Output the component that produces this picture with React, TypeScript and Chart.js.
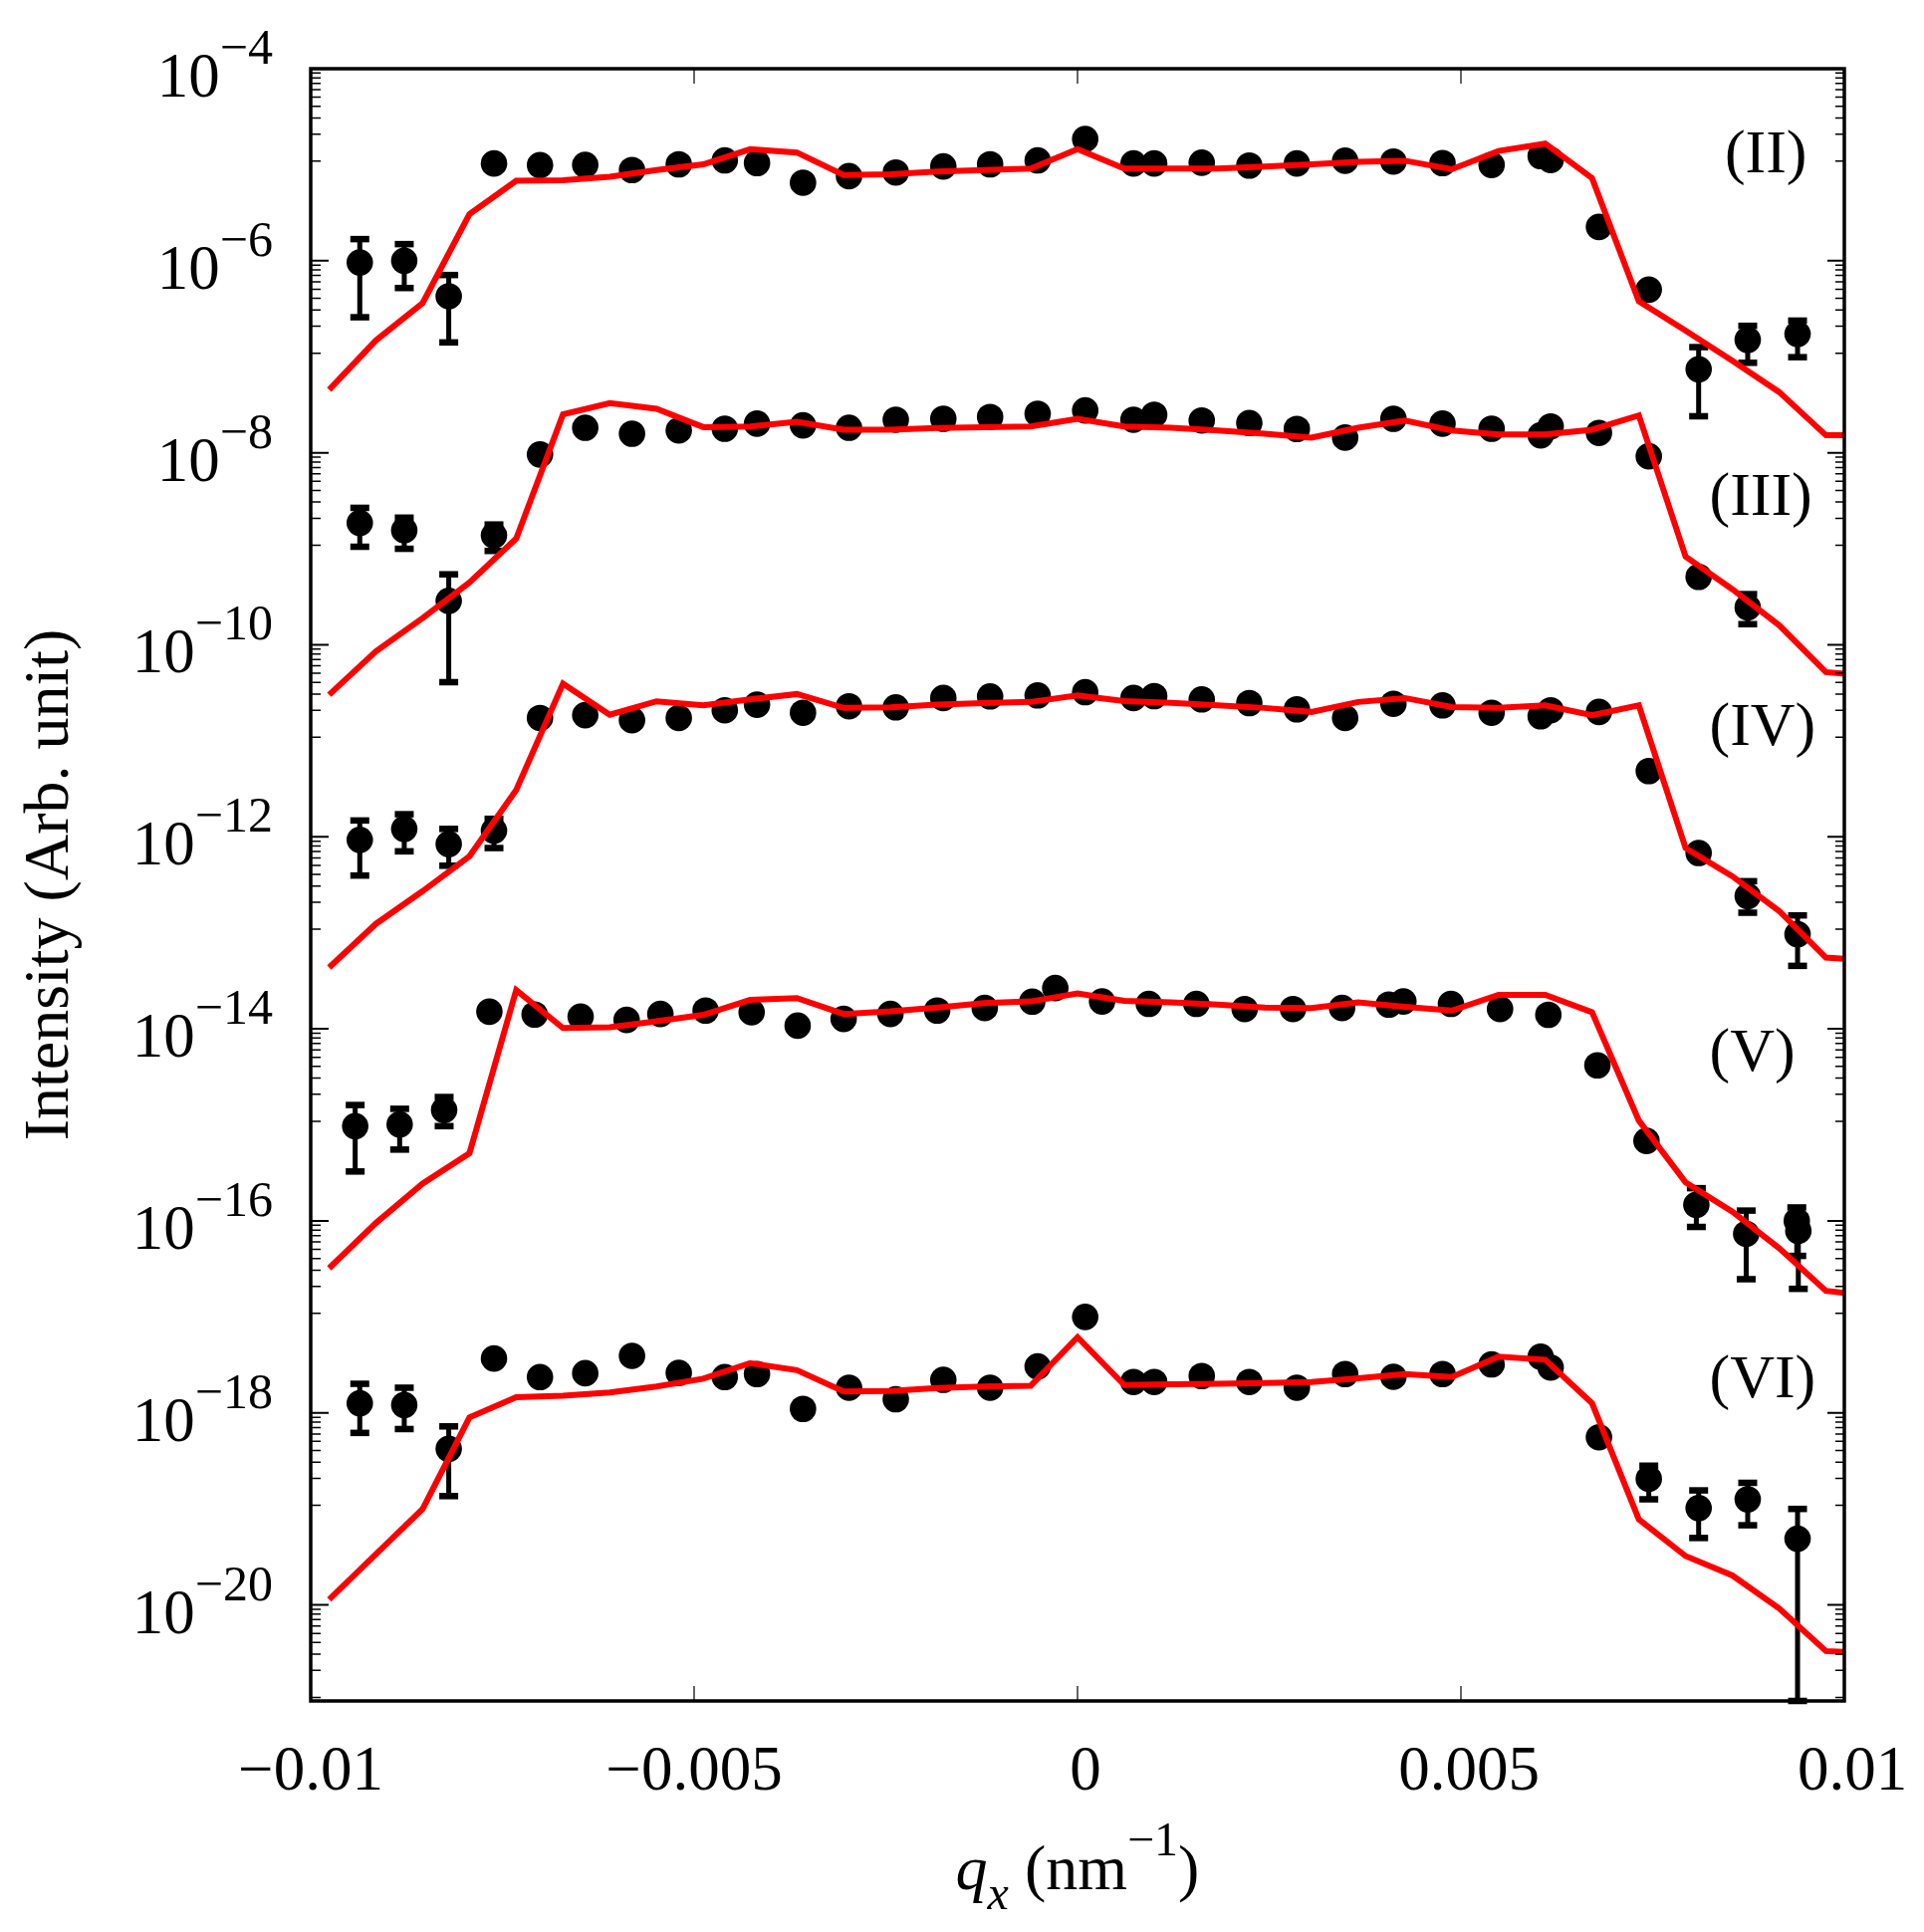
import { useEffect, useRef } from 'react'
import { Chart, registerables } from 'chart.js'

Chart.register(...registerables)

// measured q_x positions of the data points (shared by II, III, IV, VI)
const qxData = [
  -0.00936, -0.00878, -0.0082, -0.00761, -0.00701, -0.00642, -0.00581, -0.0052, -0.0046, -0.00418, -0.00358,
  -0.00298, -0.00237, -0.00175, -0.00114, -0.00052, 0.0001, 0.00073, 0.001, 0.00162, 0.00224, 0.00286,
  0.00349, 0.00412, 0.00476, 0.0054, 0.00604, 0.00617, 0.0068, 0.00745, 0.0081, 0.00874, 0.00939,
]
// curve V was measured on a slightly different grid
const qxDataV = [
  -0.00942, -0.00884, -0.00826, -0.00767, -0.00708, -0.00648, -0.00588, -0.00544, -0.00485, -0.00425, -0.00365,
  -0.00305, -0.00244, -0.00183, -0.00121, -0.00059, -0.00029, 0.00032, 0.00093, 0.00155, 0.00218, 0.00281,
  0.00345, 0.00406, 0.00425, 0.00487, 0.00551, 0.00614, 0.00678, 0.00742, 0.00807, 0.00872, 0.00938, 0.0094,
]
// q_x grid of the model curves
const qxModel = [
  -0.00976, -0.00915, -0.00854, -0.00793, -0.00732, -0.00671, -0.0061, -0.00549, -0.00488, -0.00427, -0.00366,
  -0.00305, -0.00244, -0.00183, -0.00122, -0.00061, 0, 0.00061, 0.00122, 0.00183, 0.00244, 0.00305, 0.00366,
  0.00427, 0.00488, 0.00549, 0.0061, 0.00671, 0.00732, 0.00793, 0.00854, 0.00915, 0.00976, 0.01,
]

const dataII = [
  9.6e-7, 1.0e-6, 4.27e-7, 1.03e-5, 9.9e-6, 9.95e-6, 8.8e-6, 1.01e-5, 1.11e-5, 1.04e-5, 6.5e-6, 7.6e-6, 8.3e-6,
  9.6e-6, 1.01e-5, 1.11e-5, 1.85e-5, 1.03e-5, 1.03e-5, 1.05e-5, 9.8e-6, 1.03e-5, 1.1e-5, 1.08e-5, 1.04e-5,
  9.95e-6, 1.23e-5, 1.12e-5, 2.25e-6, 5.0e-7, 7.4e-8, 1.5e-7, 1.73e-7,
]
const dataIII = [
  1.86e-9, 1.56e-9, 2.87e-10, 1.38e-9, 9.6e-9, 1.82e-8, 1.58e-8, 1.71e-8, 1.78e-8, 2.01e-8, 1.93e-8, 1.82e-8,
  2.21e-8, 2.26e-8, 2.36e-8, 2.55e-8, 2.76e-8, 2.21e-8, 2.49e-8, 2.17e-8, 2.04e-8, 1.77e-8, 1.44e-8, 2.26e-8,
  2.01e-8, 1.78e-8, 1.52e-8, 1.88e-8, 1.61e-8, 9.2e-9, 5.1e-10, 2.45e-10,
]
const dataIV = [
  9.3e-13, 1.21e-12, 8.4e-13, 1.16e-12, 1.73e-11, 1.85e-11, 1.64e-11, 1.73e-11, 2.08e-11, 2.38e-11, 1.96e-11,
  2.29e-11, 2.23e-11, 2.79e-11, 2.9e-11, 2.97e-11, 3.21e-11, 2.79e-11, 2.92e-11, 2.7e-11, 2.47e-11, 2.13e-11,
  1.73e-11, 2.43e-11, 2.34e-11, 1.96e-11, 1.8e-11, 2.08e-11, 2.0e-11, 4.84e-12, 6.78e-13, 2.41e-13, 9.66e-14,
]
const dataV = [
  9.7e-16, 1.01e-15, 1.43e-15, 1.51e-14, 1.41e-14, 1.34e-14, 1.24e-14, 1.43e-14, 1.55e-14, 1.49e-14, 1.08e-14,
  1.27e-14, 1.43e-14, 1.55e-14, 1.65e-14, 1.92e-14, 2.66e-14, 1.93e-14, 1.82e-14, 1.82e-14, 1.61e-14, 1.61e-14,
  1.65e-14, 1.79e-14, 1.93e-14, 1.82e-14, 1.61e-14, 1.4e-14, 4.17e-15, 6.81e-16, 1.47e-16, 7.33e-17, 1.0e-16,
  7.87e-17,
]
const dataVI = [
  1.26e-18, 1.21e-18, 4.23e-19, 3.69e-18, 2.36e-18, 2.59e-18, 3.93e-18, 2.61e-18, 2.36e-18, 2.54e-18, 1.1e-18,
  1.83e-18, 1.39e-18, 2.21e-18, 1.83e-18, 3.05e-18, 1.0e-17, 2.1e-18, 2.1e-18, 2.42e-18, 2.1e-18, 1.83e-18,
  2.54e-18, 2.38e-18, 2.54e-18, 3.2e-18, 3.85e-18, 2.97e-18, 5.58e-19, 2.06e-19, 1.02e-19, 1.26e-19, 4.9e-20,
]

// [point index, lower end, upper end]
const errII: [number, number, number][] = [
  [0, 2.58e-7, 1.68e-6], [1, 5.2e-7, 1.49e-6], [2, 1.41e-7, 7.1e-7],
  [30, 2.4e-8, 1.26e-7], [31, 8.65e-8, 2.1e-7], [32, 9.9e-8, 2.38e-7],
]
const errIII: [number, number, number][] = [
  [0, 1.05e-9, 2.67e-9], [1, 1.0e-9, 2.11e-9], [2, 4.08e-11, 5.42e-10], [3, 9.5e-10, 1.79e-9],
  [31, 1.64e-10, 3.37e-10],
]
const errIV: [number, number, number][] = [
  [0, 3.95e-13, 1.48e-12], [1, 7.06e-13, 1.72e-12], [2, 5.0e-13, 1.21e-12], [3, 7.64e-13, 1.54e-12],
  [31, 1.62e-13, 3.45e-13], [32, 4.53e-14, 1.52e-13],
]
const errV: [number, number, number][] = [
  [0, 3.27e-16, 1.61e-15], [1, 5.53e-16, 1.47e-15], [2, 9.7e-16, 1.95e-15],
  [30, 8.65e-17, 2.19e-16], [31, 2.47e-17, 1.28e-16], [32, 4.32e-17, 1.38e-16], [33, 1.96e-17, 1.12e-16],
]
const errVI: [number, number, number][] = [
  [0, 6.19e-19, 2.01e-18], [1, 6.79e-19, 1.83e-18], [2, 1.36e-19, 7.24e-19],
  [29, 1.26e-19, 2.82e-19], [30, 4.98e-20, 1.56e-19], [31, 6.76e-20, 1.87e-19], [32, 1e-21, 1.0e-19],
]

const modelII = [
  4.53e-8, 1.48e-7, 3.63e-7, 3.05e-6, 6.8e-6, 6.9e-6, 7.5e-6, 8.8e-6, 1.01e-5, 1.45e-5, 1.34e-5, 7.8e-6, 7.96e-6,
  8.5e-6, 8.8e-6, 9.1e-6, 1.45e-5, 9.1e-6, 9.1e-6, 9.1e-6, 9.55e-6, 1.01e-5, 1.07e-5, 1.1e-5, 8.97e-6, 1.39e-5,
  1.66e-5, 7.24e-6, 3.78e-7, 1.87e-7, 9.1e-8, 4.29e-8, 1.52e-8, 1.52e-8,
]
const modelIII = [
  3.02e-11, 8.55e-11, 1.9e-10, 4.45e-10, 1.28e-9, 2.51e-8, 3.29e-8, 2.87e-8, 1.85e-8, 1.88e-8, 2.1e-8, 1.74e-8,
  1.74e-8, 1.81e-8, 1.85e-8, 1.88e-8, 2.26e-8, 1.88e-8, 1.82e-8, 1.71e-8, 1.58e-8, 1.44e-8, 1.82e-8, 2.17e-8,
  1.71e-8, 1.55e-8, 1.55e-8, 1.74e-8, 2.45e-8, 8.3e-10, 3.79e-10, 1.6e-10, 5.19e-11, 5.0e-11,
]
const modelIV = [
  4.36e-14, 1.24e-13, 2.72e-13, 6.27e-13, 3.08e-12, 3.93e-11, 1.87e-11, 2.58e-11, 2.34e-11, 2.7e-11, 3.07e-11,
  2.2e-11, 2.23e-11, 2.38e-11, 2.47e-11, 2.54e-11, 2.97e-11, 2.59e-11, 2.49e-11, 2.34e-11, 2.2e-11, 2.0e-11,
  2.54e-11, 2.79e-11, 2.25e-11, 2.2e-11, 2.34e-11, 1.85e-11, 2.34e-11, 7.64e-13, 3.88e-13, 1.69e-13, 5.52e-14,
  5.37e-14,
]
const modelV = [
  3.21e-17, 9.5e-17, 2.45e-16, 5.05e-16, 2.54e-14, 1.02e-14, 1.04e-14, 1.2e-14, 1.4e-14, 2.0e-14, 2.09e-14,
  1.43e-14, 1.52e-14, 1.67e-14, 1.85e-14, 1.93e-14, 2.34e-14, 1.96e-14, 1.89e-14, 1.79e-14, 1.67e-14, 1.65e-14,
  1.89e-14, 1.7e-14, 1.55e-14, 2.26e-14, 2.26e-14, 1.49e-14, 1.11e-15, 2.52e-16, 1.25e-16, 5.19e-17, 1.87e-17,
  1.78e-17,
]
const modelVI = [
  1.14e-20, 3.38e-20, 1.0e-19, 8.97e-19, 1.46e-18, 1.51e-18, 1.63e-18, 1.88e-18, 2.27e-18, 3.3e-18, 2.79e-18,
  1.67e-18, 1.69e-18, 1.82e-18, 1.88e-18, 1.92e-18, 6.14e-18, 1.95e-18, 1.99e-18, 2.01e-18, 2.05e-18, 2.1e-18,
  2.29e-18, 2.54e-18, 2.36e-18, 3.85e-18, 3.58e-18, 1.26e-18, 7.8e-20, 3.23e-20, 2.03e-20, 9.2e-21, 3.31e-21,
  3.25e-21,
]

const curveNames = ['(II)', '(III)', '(IV)', '(V)', '(VI)']
const nameQx = [0.00844, 0.00824, 0.00824, 0.00824, 0.00824]
const nameY = [8.25e-6, 2.27e-9, 9.14e-12, 3.7e-15, 1.46e-18]

const yMajorTicks = [1e-4, 1e-6, 1e-8, 1e-10, 1e-12, 1e-14, 1e-16, 1e-18, 1e-20]
const yTickExponents = ['−4', '−6', '−8', '−10', '−12', '−14', '−16', '−18', '−20']
const xTicks = [-0.01, -0.005, 0, 0.005, 0.01]
const xTickLabels = ['−0.01', '−0.005', '0', '0.005', '0.01']

const SERIF = "'Liberation Serif', 'Times New Roman', 'DejaVu Serif', serif"

const measured = [
  { qx: qxData, y: dataII, err: errII },
  { qx: qxData, y: dataIII, err: errIII },
  { qx: qxData, y: dataIV, err: errIV },
  { qx: qxDataV, y: dataV, err: errV },
  { qx: qxData, y: dataVI, err: errVI },
]
const models = [modelII, modelIII, modelIV, modelV, modelVI]

const toPoints = (xs: number[], ys: number[]) => ys.map((y, i) => ({ x: xs[i], y }))

const gracePlugin = {
  id: 'graceFrame',
  beforeDatasetsDraw(chart: any) {
    const { ctx, scales } = chart
    const x = scales.x
    const y = scales.y
    ctx.save()
    ctx.fillStyle = '#000'
    for (const s of measured) {
      for (const [i, lo, hi] of s.err) {
        const px = x.getPixelForValue(s.qx[i])
        const top = y.getPixelForValue(hi)
        const bot = y.getPixelForValue(lo)
        ctx.fillRect(px - 2.5, top, 5, bot - top)
        ctx.fillRect(px - 9.5, top - 3.25, 19, 6.5)
        ctx.fillRect(px - 9.5, bot - 3.25, 19, 6.5)
      }
    }
    ctx.restore()
  },
  afterDatasetsDraw(chart: any) {
    const { ctx, chartArea: a, scales } = chart
    const x = scales.x
    const y = scales.y
    ctx.save()
    ctx.strokeStyle = '#000'

    // y ticks, both sides, pointing inwards; minor ticks are linear between majors
    for (const major of yMajorTicks) {
      const py = y.getPixelForValue(major)
      ctx.lineWidth = 2
      ctx.beginPath()
      ctx.moveTo(a.left, py); ctx.lineTo(a.left + 18, py)
      ctx.moveTo(a.right, py); ctx.lineTo(a.right - 17, py)
      ctx.stroke()
      const low = major / 100
      ctx.lineWidth = 1.5
      ctx.beginPath()
      for (let k = 1; k < 10; k++) {
        const v = low + (k * (major - low)) / 10
        const pm = y.getPixelForValue(v)
        if (pm < a.top || pm > a.bottom) continue
        ctx.moveTo(a.left, pm); ctx.lineTo(a.left + 10, pm)
        ctx.moveTo(a.right, pm); ctx.lineTo(a.right - 9, pm)
      }
      ctx.stroke()
    }

    ctx.lineWidth = 1.2
    ctx.beginPath()
    for (const v of xTicks) {
      const px = x.getPixelForValue(v)
      ctx.moveTo(px, a.bottom); ctx.lineTo(px, a.bottom - 15)
      ctx.moveTo(px, a.top); ctx.lineTo(px, a.top + 15)
    }
    ctx.stroke()

    ctx.lineWidth = 3.5
    ctx.strokeRect(a.left, a.top, a.right - a.left, a.bottom - a.top)
    ctx.restore()
  },
  afterDraw(chart: any) {
    const { ctx, chartArea: a, scales } = chart
    const x = scales.x
    const y = scales.y
    ctx.save()
    ctx.fillStyle = '#000'
    ctx.textBaseline = 'alphabetic'

    // y tick labels 10^n
    const labelRight = a.left - 38
    yMajorTicks.forEach((v, k) => {
      const py = y.getPixelForValue(v)
      ctx.font = `50px ${SERIF}`
      const sup = yTickExponents[k]
      const sw = ctx.measureText(sup).width
      ctx.textAlign = 'left'
      ctx.fillText(sup, labelRight - sw, py - 5)
      ctx.font = `63px ${SERIF}`
      ctx.textAlign = 'right'
      ctx.fillText('10', labelRight - sw, py + 28)
    })

    // x tick labels
    ctx.font = `63px ${SERIF}`
    ctx.textAlign = 'center'
    xTicks.forEach((v, k) => {
      const px = x.getPixelForValue(v) + (v < 0 ? 0 : 8)
      ctx.fillText(xTickLabels[k], px, a.bottom + 89)
    })

    // curve names
    ctx.font = `62px ${SERIF}`
    ctx.textAlign = 'left'
    curveNames.forEach((name, k) => {
      ctx.fillText(name, x.getPixelForValue(nameQx[k]), y.getPixelForValue(nameY[k]))
    })

    // x axis title: q_x (nm^-1)
    const base = a.bottom + 189
    const parts = [
      { t: 'q', f: `italic 64px ${SERIF}`, dy: 0 },
      { t: 'x', f: `italic 48px ${SERIF}`, dy: 20 },
      { t: ' (nm', f: `64px ${SERIF}`, dy: 0 },
      { t: '−1', f: `48px ${SERIF}`, dy: -34 },
      { t: ')', f: `64px ${SERIF}`, dy: 0 },
    ]
    let total = 0
    for (const p of parts) {
      ctx.font = p.f
      total += ctx.measureText(p.t).width
    }
    let cx = (a.left + a.right) / 2 - total / 2
    for (const p of parts) {
      ctx.font = p.f
      ctx.fillText(p.t, cx, base + p.dy)
      cx += ctx.measureText(p.t).width
    }

    // y axis title
    ctx.translate(68, (a.top + a.bottom) / 2)
    ctx.rotate(-Math.PI / 2)
    ctx.font = `64px ${SERIF}`
    ctx.textAlign = 'center'
    ctx.fillText('Intensity (Arb. unit)', 0, 0)
    ctx.restore()
  },
}

export default function App() {
  const canvasRef = useRef<HTMLCanvasElement>(null)

  useEffect(() => {
    const lineSets = models.map((m) => ({
      type: 'line' as const,
      data: toPoints(qxModel, m),
      borderColor: '#ff0000',
      borderWidth: 6,
      pointRadius: 0,
      fill: false,
      tension: 0,
      order: 0,
    }))
    const dotSets = measured.map((s) => ({
      type: 'scatter' as const,
      data: toPoints(s.qx, s.y),
      backgroundColor: '#000',
      borderWidth: 0,
      pointRadius: 13.3,
      pointHoverRadius: 13.3,
      order: 1,
    }))

    const chart = new Chart(canvasRef.current!, {
      type: 'scatter',
      data: { datasets: [...lineSets, ...dotSets] as any },
      options: {
        animation: false,
        responsive: true,
        maintainAspectRatio: false,
        events: [],
        layout: { padding: { left: 312, right: 80, top: 69, bottom: 232 } },
        plugins: { legend: { display: false }, tooltip: { enabled: false } },
        scales: {
          x: { type: 'linear', min: -0.01, max: 0.01, display: false },
          y: { type: 'logarithmic', min: 1e-21, max: 1e-4, display: false },
        },
      },
      plugins: [gracePlugin],
    })

    return () => chart.destroy()
  }, [])

  return (
    <div style={{ position: 'absolute', left: 0, top: 0, width: 1932, height: 1940, background: '#fff' }}>
      <canvas ref={canvasRef} />
    </div>
  )
}
